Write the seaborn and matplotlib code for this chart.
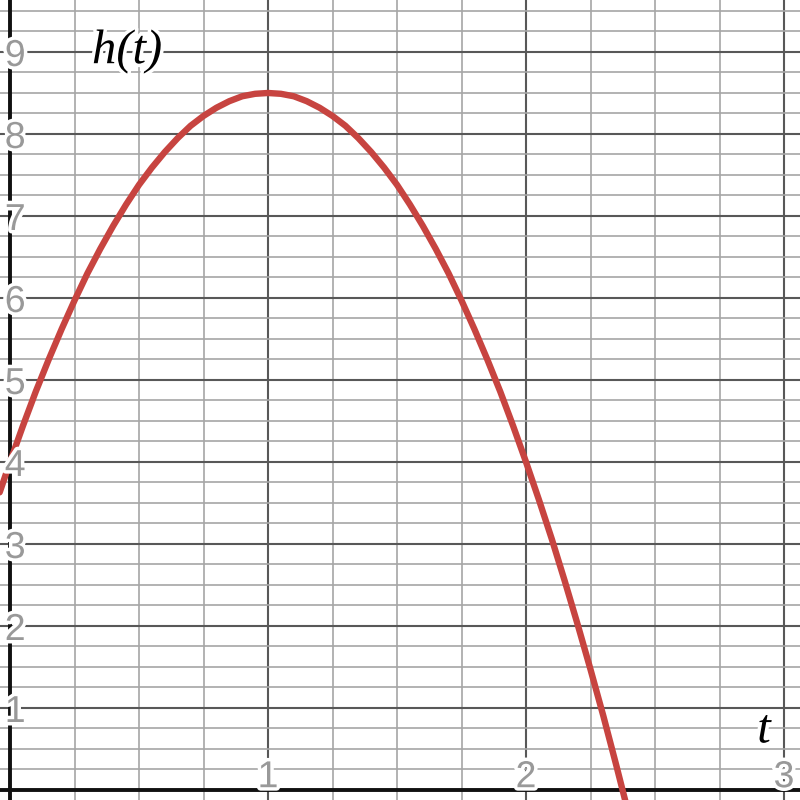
import numpy as np
import pandas as pd
import matplotlib
matplotlib.use("Agg")
import matplotlib.pyplot as plt
import matplotlib.patheffects as pe
import seaborn as sns

# Curve points (t, h(t))
t_vals = [-0.04, 0.0, 0.05, 0.1, 0.15, 0.2, 0.25, 0.3, 0.35, 0.4, 0.45, 0.5,
          0.55, 0.6, 0.65, 0.7, 0.75, 0.8, 0.85, 0.9, 0.95, 1.0,
          1.05, 1.1, 1.15, 1.2, 1.25, 1.3, 1.35, 1.4, 1.45, 1.5,
          1.55, 1.6, 1.65, 1.7, 1.75, 1.8, 1.85, 1.9, 1.95, 2.0,
          2.05, 2.1, 2.15, 2.2, 2.25, 2.3, 2.35, 2.4]
h_vals = [3.63, 4.0, 4.44, 4.86, 5.25, 5.62, 5.97, 6.30, 6.60, 6.88, 7.14, 7.38,
          7.59, 7.78, 7.95, 8.10, 8.22, 8.32, 8.40, 8.46, 8.49, 8.5,
          8.49, 8.46, 8.40, 8.32, 8.22, 8.10, 7.95, 7.78, 7.59, 7.38,
          7.14, 6.88, 6.60, 6.30, 5.97, 5.62, 5.25, 4.86, 4.44, 4.0,
          3.54, 3.06, 2.55, 2.02, 1.47, 0.90, 0.30, -0.32]

x_ticks = [1, 2, 3]
y_ticks = [1, 2, 3, 4, 5, 6, 7, 8, 9]

df = pd.DataFrame({"t": t_vals, "h": h_vals})

sns.set_theme(style="white")
plt.rcParams["font.family"] = ["Liberation Sans", "DejaVu Sans"]

fig = plt.figure(figsize=(8, 8), dpi=100)
ax = fig.add_axes([0, 0, 1, 1])

# grid
ax.set_xlim(-0.0388, 3.062)
ax.set_ylim(-0.122, 9.634)
ax.set_xticks(np.arange(0, 3.01, 1))
ax.set_yticks(np.arange(0, 9.01, 1))
ax.set_xticks(np.arange(0, 3.01, 0.25), minor=True)
ax.set_yticks(np.arange(0, 9.51, 0.25), minor=True)
ax.grid(which="major", color="#585858", linewidth=1.5, zorder=0)
ax.grid(which="minor", color="#a6a6a6", linewidth=1.2, zorder=0)
ax.tick_params(which="both", length=0, labelbottom=False, labelleft=False)
for s in ax.spines.values():
    s.set_visible(False)

# axes lines
ax.axhline(0, color="#111111", linewidth=2.8, zorder=2)
ax.axvline(0, color="#111111", linewidth=2.8, zorder=2)

sns.lineplot(data=df, x="t", y="h", ax=ax, color="#c74440", linewidth=4.6,
             sort=False, zorder=3)
ax.set_xlabel("")
ax.set_ylabel("")

halo = [pe.withStroke(linewidth=5, foreground="white")]

for v in x_ticks:
    ax.text(v, 0.016, str(v), transform=ax.get_xaxis_transform(),
            ha="center", va="baseline", fontsize=27, color="#999999",
            path_effects=halo, zorder=4)
for v in y_ticks:
    ax.text(0.019, v, str(v), transform=ax.get_yaxis_transform(),
            ha="center", va="center_baseline", fontsize=27, color="#999999",
            path_effects=halo, zorder=4)

ax.text(0.159, 0.921, "h(t)", transform=ax.transAxes, ha="center",
        va="baseline", fontsize=35, style="italic", family="Liberation Serif",
        color="black", path_effects=halo, zorder=5)
ax.text(0.955, 0.072, "t", transform=ax.transAxes, ha="center",
        va="baseline", fontsize=35, style="italic", family="Liberation Serif",
        color="black", path_effects=halo, zorder=5)

fig.savefig("out.png", dpi=100)
